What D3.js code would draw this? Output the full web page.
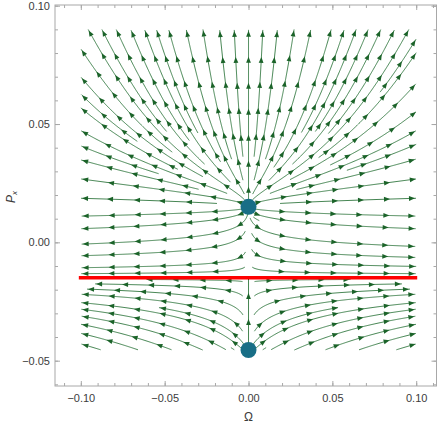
<!DOCTYPE html>
<html>
<head>
<meta charset="utf-8">
<script src="https://cdn.jsdelivr.net/npm/d3@7"></script>
<style>
  body { margin: 0; background: #fff; }
  text { font-family: "Liberation Sans", Arial, sans-serif; }
</style>
</head>
<body>
<svg id="plot" width="442" height="424"></svg>
<script>
// ticks
var xTicks = [-0.10, -0.05, 0.00, 0.05, 0.10],
    yTicks = [-0.05, 0.00, 0.05, 0.10],
    xMinor = d3.range(-11, 12).map(function(d) { return d / 100; }),
    yMinor = d3.range(-6, 11).map(function(d) { return d / 100; });

// fixed points (Omega, Px) and the red line level
var fixedPoints = [[0, 0.015], [0, -0.0455]],
    redLineP = -0.015;

// region of the stream plot
var omegaRange = [-0.1, 0.1],
    pxRange = [-0.0455, 0.09];

// field: dOmega = Omega, dPx = cubic in Px with roots below, plus a lift under the red line
var roots = [0.015, -0.015, -0.0455],
    K = 273, satur = 241, lift = 0.107;

function field(o, p) {
  var d1 = p - roots[0];
  var g = K * d1 * (p - roots[1]) * (p - roots[2]);
  if (d1 > 0) g /= (1 + satur * d1 * d1);
  var b = p < roots[1] ? (roots[1] - p) / (roots[1] - roots[2]) : 0;
  return [o, g + lift * Math.pow(Math.abs(o), 0.7) * Math.pow(b, 1.5)];
}

var svg = d3.select("#plot"),
    width = +svg.attr("width"),
    height = +svg.attr("height"),
    frame = {left: 55, right: 436.5, top: 5, bottom: 386};

var x = d3.scaleLinear().domain([-0.1154, 0.1121]).range([frame.left, frame.right]);
var y = d3.scaleLinear().domain([-0.0607, 0.1003]).range([frame.bottom, frame.top]);

var green = "#236f32", greenHead = "#1b6329";

// ---------- streamlines (evenly spaced, Jobard-Lefer style) ----------
var sx = x(1) - x(0), sy = y(0) - y(1);
var X0 = x(omegaRange[0]), X1 = x(omegaRange[1]),
    Y0 = y(pxRange[1]), Y1 = y(pxRange[0]);
var fp = fixedPoints.map(function(d) { return [x(d[0]), y(d[1])]; });
var axisX = x(0);

function dir(px, py) {
  var f = field(x.invert(px), y.invert(py));
  var dx = f[0] * sx, dy = -f[1] * sy, m = Math.hypot(dx, dy);
  return m < 1e-12 ? null : [dx / m, dy / m];
}

var dsep = 11, dtest = 5.5, cell = 11, step = 1;
var grid = {};
function key(i, j) { return i + "," + j; }
function nearFp(px, py) {
  return d3.min(fp, function(q) { return Math.hypot(px - q[0], py - q[1]); });
}
function free(px, py, dmin) {
  if (px < X0 || px > X1 || py < Y0 || py > Y1) return false;
  var df = nearFp(px, py);
  if (df < 5) return false;
  var d = Math.min(dmin, df * 0.3);
  var ci = Math.floor(px / cell), cj = Math.floor(py / cell);
  for (var i = ci - 1; i <= ci + 1; i++) {
    for (var j = cj - 1; j <= cj + 1; j++) {
      var pts = grid[key(i, j)];
      if (!pts) continue;
      for (var k = 0; k < pts.length; k++) {
        if (Math.hypot(pts[k][0] - px, pts[k][1] - py) < d) return false;
      }
    }
  }
  return true;
}

function trace(p0, sign, onAxis) {
  var pts = [], p = p0;
  for (var n = 0; n < 1500; n++) {
    var d1 = dir(p[0], p[1]);
    if (!d1) break;
    var d2 = dir(p[0] + 0.5 * step * sign * d1[0], p[1] + 0.5 * step * sign * d1[1]);
    if (!d2) break;
    var q = [p[0] + step * sign * d2[0], p[1] + step * sign * d2[1]];
    if (!free(q[0], q[1], dtest)) break;
    // keep lines off the Omega = 0 axis, except the separatrices drawn on it
    if (!onAxis && Math.abs(q[0] - axisX) < 3 && nearFp(q[0], q[1]) > 16) break;
    pts.push(q);
    p = q;
  }
  return pts;
}

var lines = [], queue = [];
function addLine(s, onAxis) {
  if (!onAxis && Math.abs(s[0] - axisX) < 3) return;
  if (!free(s[0], s[1], dsep) || nearFp(s[0], s[1]) < 10) return;
  var line = trace(s, -1, onAxis).reverse().concat([s], trace(s, 1, onAxis));
  if (line.length < 5) return;
  line.forEach(function(p) {
    var k = key(Math.floor(p[0] / cell), Math.floor(p[1] / cell));
    (grid[k] = grid[k] || []).push(p);
  });
  lines.push(line);
  for (var i = 0; i < line.length; i += 4) {
    var d = dir(line[i][0], line[i][1]);
    if (!d) continue;
    queue.push([line[i][0] - d[1] * dsep, line[i][1] + d[0] * dsep]);
    queue.push([line[i][0] + d[1] * dsep, line[i][1] - d[0] * dsep]);
  }
}

// separatrices from each fixed point upward first
fp.forEach(function(q) { addLine([q[0], q[1] - 14], true); });
function drain() { while (queue.length) addLine(queue.shift()); }
drain();
for (var gy = Y0 + 3; gy < Y1; gy += 6) {
  for (var gx = X0 + 3; gx < X1; gx += 6) {
    addLine([gx, gy]);
    drain();
  }
}

var gStream = svg.append("g");
var lineGen = d3.line();
gStream.selectAll("path.stream")
  .data(lines)
  .enter().append("path")
  .attr("class", "stream")
  .attr("d", lineGen)
  .attr("fill", "none")
  .attr("stroke", green)
  .attr("stroke-width", 1)
  .attr("stroke-opacity", 0.85);

// arrowheads along every streamline
var heads = [], spacing = 26, aLen = 6, aHalf = 2.4;
lines.forEach(function(line) {
  var cum = [0];
  for (var i = 1; i < line.length; i++) {
    cum.push(cum[i - 1] + Math.hypot(line[i][0] - line[i - 1][0], line[i][1] - line[i - 1][1]));
  }
  var total = cum[cum.length - 1];
  for (var s = total - 1; s >= 8; s -= spacing) {
    var idx = d3.bisectLeft(cum, s);
    var j = Math.max(0, idx - 4);
    var tip = line[idx], back = line[j];
    var dx = tip[0] - back[0], dy = tip[1] - back[1], m = Math.hypot(dx, dy);
    if (m === 0) continue;
    dx /= m; dy /= m;
    var bx = tip[0] - dx * aLen, by = tip[1] - dy * aLen;
    heads.push("M" + tip[0] + "," + tip[1] +
      "L" + (bx - dy * aHalf) + "," + (by + dx * aHalf) +
      "L" + (bx + dy * aHalf) + "," + (by - dx * aHalf) + "Z");
  }
});
gStream.selectAll("path.head")
  .data(heads)
  .enter().append("path")
  .attr("class", "head")
  .attr("d", function(d) { return d; })
  .attr("fill", greenHead);

// ---------- red line and fixed points ----------
svg.append("line")
  .attr("x1", x(omegaRange[0]) - 2)
  .attr("x2", x(omegaRange[1]) + 1)
  .attr("y1", y(redLineP))
  .attr("y2", y(redLineP))
  .attr("stroke", "#ff0000")
  .attr("stroke-width", 3.5);

svg.selectAll("circle.fp")
  .data(fixedPoints)
  .enter().append("circle")
  .attr("class", "fp")
  .attr("cx", function(d) { return x(d[0]); })
  .attr("cy", function(d) { return y(d[1]); })
  .attr("r", 8)
  .attr("fill", "#186e86");

// ---------- frame and ticks ----------
var frameColor = "#a8a8a8", labelColor = "#3c3c3c";
var fmt = d3.format(".2f");

function styleAxis(g) {
  g.select(".domain").remove();
  g.selectAll(".tick line").attr("stroke", frameColor);
  g.selectAll(".tick text").attr("fill", labelColor).style("font-size", "11px")
    .style("font-family", "'Liberation Sans', Arial, sans-serif");
}

svg.append("g").attr("transform", "translate(0," + frame.bottom + ")")
  .call(d3.axisBottom(x).tickValues(xMinor).tickSize(-3).tickFormat(""))
  .call(styleAxis);
svg.append("g").attr("transform", "translate(0," + frame.bottom + ")")
  .call(d3.axisBottom(x).tickValues(xTicks).tickSize(-5).tickPadding(8).tickFormat(fmt))
  .call(styleAxis);
svg.append("g").attr("transform", "translate(0," + frame.top + ")")
  .call(d3.axisTop(x).tickValues(xMinor).tickSize(-3).tickFormat(""))
  .call(styleAxis);
svg.append("g").attr("transform", "translate(0," + frame.top + ")")
  .call(d3.axisTop(x).tickValues(xTicks).tickSize(-5).tickFormat(""))
  .call(styleAxis);

svg.append("g").attr("transform", "translate(" + frame.left + ",0)")
  .call(d3.axisLeft(y).tickValues(yMinor).tickSize(-3).tickFormat(""))
  .call(styleAxis);
svg.append("g").attr("transform", "translate(" + frame.left + ",0)")
  .call(d3.axisLeft(y).tickValues(yTicks).tickSize(-5).tickPadding(5).tickFormat(fmt))
  .call(styleAxis);
svg.append("g").attr("transform", "translate(" + frame.right + ",0)")
  .call(d3.axisRight(y).tickValues(yMinor).tickSize(-3).tickFormat(""))
  .call(styleAxis);
svg.append("g").attr("transform", "translate(" + frame.right + ",0)")
  .call(d3.axisRight(y).tickValues(yTicks).tickSize(-5).tickFormat(""))
  .call(styleAxis);

svg.append("rect")
  .attr("x", frame.left)
  .attr("y", frame.top)
  .attr("width", frame.right - frame.left)
  .attr("height", frame.bottom - frame.top)
  .attr("fill", "none")
  .attr("stroke", frameColor)
  .attr("stroke-width", 1);

// axis titles
svg.append("text")
  .attr("x", x(0))
  .attr("y", 421)
  .attr("text-anchor", "middle")
  .attr("fill", labelColor)
  .style("font-size", "12px")
  .text("Ω");

var ylab = svg.append("text")
  .attr("transform", "translate(15,197) rotate(-90)")
  .attr("text-anchor", "middle")
  .attr("fill", labelColor)
  .style("font-size", "12px");
ylab.append("tspan").attr("font-style", "italic").text("P");
ylab.append("tspan").attr("font-style", "italic").attr("font-size", "8px").attr("dy", 2).text("x");
</script>
</body>
</html>
